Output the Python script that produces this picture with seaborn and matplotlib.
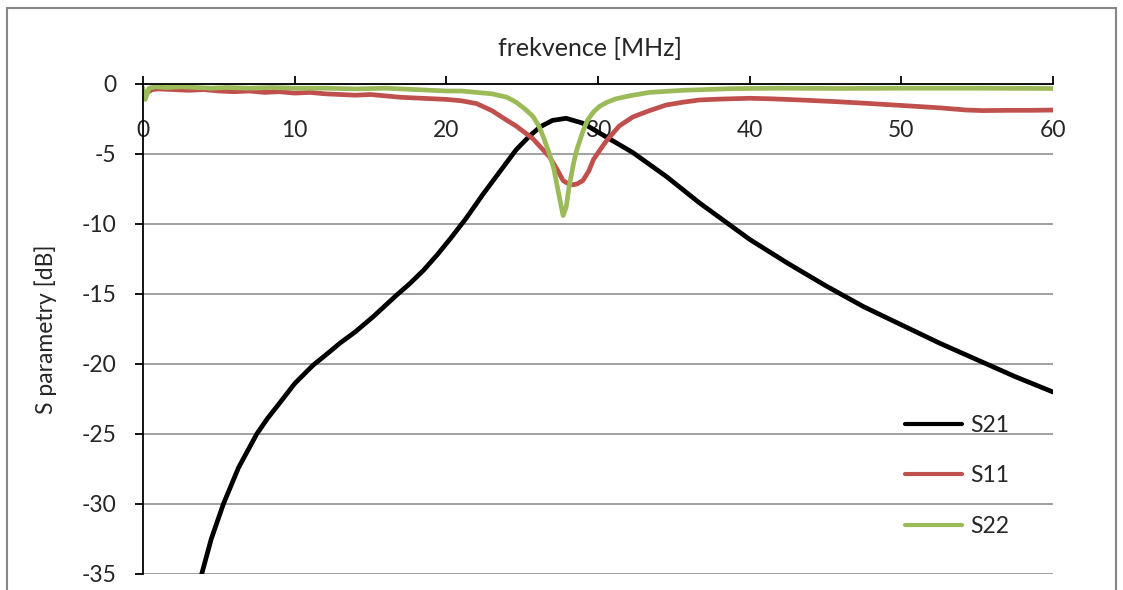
import matplotlib
matplotlib.use("Agg")
import matplotlib.pyplot as plt
from matplotlib.patches import Rectangle
import pandas as pd
import seaborn as sns

# S21 (transmission)
f_s21 = [3.5, 3.87, 4.5, 5.3, 6.3, 7.5, 8.2, 9, 10, 11.2, 12, 13, 14, 15.2, 16.7,
         17.6, 18.5, 19.4, 20.3, 21.3, 22.4, 23.5, 24.6, 25.5, 26.2, 27, 27.9, 29,
         30.1, 31.2, 32.3, 34.5, 36.7, 40, 42.5, 45, 47.5, 50, 52.5, 55, 57.5, 60]
s21 = [-37.5, -35, -32.5, -30, -27.4, -25, -23.9, -22.8, -21.4, -20.1, -19.4, -18.5,
       -17.7, -16.6, -15.1, -14.25, -13.3, -12.2, -11.0, -9.6, -7.9, -6.3, -4.7,
       -3.7, -3.05, -2.6, -2.45, -2.8, -3.5, -4.2, -4.9, -6.6, -8.5, -11.1, -12.8,
       -14.4, -15.9, -17.2, -18.5, -19.7, -20.9, -22.0]

# S11 (input reflection)
f_s11 = [0.3, 0.6, 1, 2, 3, 4, 5, 6, 7, 8, 9, 10, 11, 12, 13, 14, 15, 16, 17, 18,
         19, 20, 21, 22, 23, 24, 24.6, 25.7, 26.8, 27.3, 27.7, 28.0, 28.3, 28.6, 29.0,
         29.4, 29.7, 30.2, 30.6, 31.4, 32.3, 33.4, 34.5, 35.6, 36.7, 38, 40, 41.5,
         43.3, 45.5, 47.7, 49.5, 51, 52.5, 54.3, 55.4, 57, 58.5, 60]
s11 = [-0.6, -0.4, -0.35, -0.4, -0.45, -0.4, -0.5, -0.55, -0.5, -0.6, -0.55, -0.65,
       -0.6, -0.7, -0.75, -0.8, -0.75, -0.85, -0.95, -1.0, -1.05, -1.1, -1.2, -1.4,
       -1.9, -2.6, -3.0, -3.9, -5.2, -6.1, -6.9, -7.1, -7.2, -7.15, -6.9, -6.2, -5.4,
       -4.6, -4.0, -3.0, -2.35, -1.9, -1.5, -1.3, -1.14, -1.08, -1.02, -1.06, -1.14,
       -1.25, -1.38, -1.5, -1.6, -1.7, -1.86, -1.9, -1.88, -1.88, -1.86]

# S22 (output reflection)
f_s22 = [0, 0.15, 0.4, 0.8, 1.5, 2.5, 3.5, 4.5, 5.5, 7, 8.5, 10, 12, 14, 16, 18, 20,
         21, 22, 23, 24, 24.6, 25.2, 25.7, 26.1, 26.4, 26.8, 27.1, 27.4, 27.7, 27.9,
         28.1, 28.4, 28.6, 29.0, 29.3, 29.7, 30.1, 30.6, 31.2, 32.3, 33.4, 35.6,
         38.9, 42, 46, 50, 55, 60]
s22 = [-0.3, -1.1, -0.3, -0.2, -0.25, -0.2, -0.25, -0.3, -0.25, -0.3, -0.25, -0.3,
       -0.3, -0.35, -0.3, -0.4, -0.5, -0.5, -0.6, -0.7, -0.95, -1.3, -1.8, -2.3,
       -3.0, -3.8, -5.0, -6.1, -7.8, -9.4, -8.8, -7.3, -5.6, -4.7, -3.4, -2.6, -2.0,
       -1.6, -1.3, -1.05, -0.8, -0.6, -0.45, -0.33, -0.3, -0.32, -0.3, -0.3, -0.32]

x_ticks = [0, 10, 20, 30, 40, 50, 60]
y_ticks = [0, -5, -10, -15, -20, -25, -30, -35]

df = pd.concat([
    pd.DataFrame({"f": f_s21, "S": s21, "param": "S21"}),
    pd.DataFrame({"f": f_s11, "S": s11, "param": "S11"}),
    pd.DataFrame({"f": f_s22, "S": s22, "param": "S22"}),
])

sns.set_style("white")
plt.rcParams["font.family"] = ["Lato", "DejaVu Sans"]
plt.rcParams["axes.unicode_minus"] = False

fig = plt.figure(figsize=(11.23, 5.90), dpi=100)
ax = fig.add_axes([143 / 1123, 16 / 590, 910 / 1123, 490 / 590])

palette = {"S21": "#000000", "S11": "#C0504D", "S22": "#9BBB59"}
sns.lineplot(data=df, x="f", y="S", hue="param", palette=palette,
             hue_order=["S21", "S11", "S22"], linewidth=3.4, ax=ax,
             estimator=None, legend=True)

ax.set_xlim(0, 60)
ax.set_ylim(-35, 0)
ax.set_xticks(x_ticks)
ax.set_yticks(y_ticks)
ax.set_xlabel("")
ax.set_ylabel("S parametry [dB]", fontsize=16.5)
ax.yaxis.set_label_coords(-(143 - 57) / 910, 0.5)

ax.grid(axis="y", color="#868686", linewidth=1.1)
ax.grid(axis="x", visible=False)
ax.set_axisbelow(True)
for side in ["right", "bottom"]:
    ax.spines[side].set_visible(False)
ax.spines["left"].set_color("black")
ax.spines["top"].set_color("black")
ax.spines["left"].set_linewidth(1.3)
ax.spines["top"].set_linewidth(1.3)

ax.tick_params(axis="y", direction="out", length=6, width=1.3, color="black",
               labelsize=16.5, pad=13, left=True)
ax.tick_params(axis="x", direction="out", length=6, width=1.3, color="black",
               labelsize=16.5, top=True, bottom=False, labeltop=True,
               labelbottom=False, pad=-47)

fig.text(590 / 1123, 1 - 48 / 590, "frekvence [MHz]", ha="center", va="center",
         fontsize=18)

leg = ax.legend(loc="center left", bbox_to_anchor=((905 - 143) / 910, (574 - 476) / 490),
                frameon=False, fontsize=16.5, handlelength=2.5, handletextpad=0.35,
                labelspacing=1.3, borderpad=0, borderaxespad=0)
for line in leg.get_lines():
    line.set_linewidth(3.0)

# chart area border
fig.patches.append(Rectangle((7 / 1123, -0.1), (1116 - 7) / 1123, 1.1 - 8 / 590,
                             transform=fig.transFigure, fill=False,
                             edgecolor="#868686", linewidth=1.5))

fig.savefig("out.png", dpi=100)
